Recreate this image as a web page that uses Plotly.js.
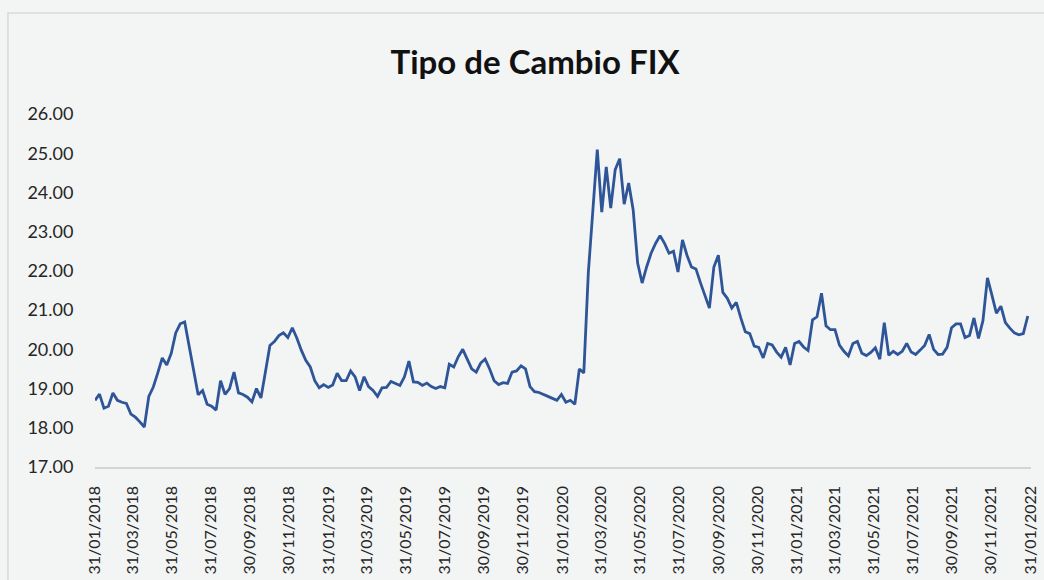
<!DOCTYPE html>
<html>
<head>
<meta charset="utf-8">
<script src="https://cdn.plot.ly/plotly-3.0.1.min.js"></script>
<style>
  html, body { margin: 0; padding: 0; background: #f3f4f4; }
  #chart { width: 1044px; height: 580px; }
</style>
</head>
<body>
<div id="chart"></div>
<script>
// Tipo de cambio FIX (MXN por USD), una lectura por semana desde el 31/01/2018
const startDate = '2018-01-31';
const fixValues = [
  18.70, 18.86, 18.50, 18.55, 18.89, 18.70, 18.65, 18.62, 18.35, 18.27,
  18.15, 18.02, 18.80, 19.04, 19.40, 19.78, 19.60, 19.90, 20.42, 20.65,
  20.70, 20.10, 19.40, 18.84, 18.95, 18.60, 18.55, 18.45, 19.20, 18.85,
  19.00, 19.42, 18.89, 18.85, 18.78, 18.66, 19.00, 18.76, 19.42, 20.10,
  20.20, 20.35, 20.42, 20.30, 20.55, 20.29, 19.98, 19.72, 19.55, 19.20,
  19.02, 19.10, 19.03, 19.09, 19.39, 19.20, 19.20, 19.45, 19.30, 18.95,
  19.30, 19.05, 18.95, 18.80, 19.02, 19.03, 19.18, 19.13, 19.08, 19.30,
  19.70, 19.17, 19.16, 19.08, 19.14, 19.05, 19.00, 19.05, 19.02, 19.62,
  19.55, 19.81, 20.00, 19.75, 19.50, 19.42, 19.65, 19.75, 19.50, 19.20,
  19.10, 19.15, 19.13, 19.42, 19.45, 19.58, 19.50, 19.05, 18.92, 18.90,
  18.86, 18.80, 18.75, 18.70, 18.85, 18.65, 18.70, 18.60, 19.50, 19.40,
  21.95, 23.60, 25.09, 23.50, 24.65, 23.60, 24.58, 24.86, 23.70, 24.24,
  23.56, 22.20, 21.69, 22.10, 22.45, 22.70, 22.90, 22.70, 22.45, 22.50,
  21.97, 22.79, 22.40, 22.10, 22.05, 21.70, 21.40, 21.05, 22.10, 22.40,
  21.45, 21.30, 21.05, 21.20, 20.80, 20.45, 20.40, 20.08, 20.05, 19.78,
  20.15, 20.11, 19.93, 19.80, 20.05, 19.60, 20.15, 20.20, 20.06, 19.97,
  20.75, 20.83, 21.43, 20.60, 20.50, 20.50, 20.11, 19.95, 19.83, 20.15,
  20.20, 19.90, 19.84, 19.92, 20.04, 19.75, 20.68, 19.85, 19.95, 19.87,
  19.95, 20.15, 19.93, 19.87, 19.98, 20.10, 20.38, 20.00, 19.87, 19.88,
  20.05, 20.55, 20.65, 20.65, 20.30, 20.35, 20.80, 20.28, 20.73, 21.82,
  21.38, 20.92, 21.10, 20.68, 20.54, 20.42, 20.37, 20.40, 20.85
];
const tickDates = [
  '2018-01-31', '2018-03-31', '2018-05-31', '2018-07-31', '2018-09-30', '2018-11-30',
  '2019-01-31', '2019-03-31', '2019-05-31', '2019-07-31', '2019-09-30', '2019-11-30',
  '2020-01-31', '2020-03-31', '2020-05-31', '2020-07-31', '2020-09-30', '2020-11-30',
  '2021-01-31', '2021-03-31', '2021-05-31', '2021-07-31', '2021-09-30', '2021-11-30',
  '2022-01-31'
];
const yTicks = [17, 18, 19, 20, 21, 22, 23, 24, 25, 26];

// fechas semanales
const fixDates = fixValues.map((v, i) => {
  const d = new Date(startDate + 'T00:00:00Z');
  d.setUTCDate(d.getUTCDate() + 7 * i);
  return d.toISOString().slice(0, 10);
});
const tickText = tickDates.map(s => s.slice(8, 10) + '/' + s.slice(5, 7) + '/' + s.slice(0, 4));

const trace = {
  type: 'scatter',
  mode: 'lines',
  x: fixDates,
  y: fixValues,
  line: { color: '#2E5597', width: 2.8 },
  hoverinfo: 'x+y'
};

const layout = {
  width: 1044,
  height: 580,
  title: {
    text: '<b>Tipo de Cambio FIX</b>',
    font: { family: 'Lato', size: 33, color: '#111111' },
    x: 0.5125,
    xanchor: 'center',
    y: 0.893,
    yanchor: 'middle'
  },
  font: { family: 'Lato', color: '#262626' },
  xaxis: {
    type: 'date',
    range: ['2018-01-31', '2022-01-31'],
    tickmode: 'array',
    tickvals: tickDates,
    ticktext: tickText,
    tickangle: -90,
    tickfont: { size: 16, color: '#262626' },
    ticks: 'outside',
    ticklen: 11,
    tickcolor: 'rgba(0,0,0,0)',
    showgrid: false,
    zeroline: false,
    showline: true,
    linecolor: '#d4d4d4',
    linewidth: 1.5
  },
  yaxis: {
    range: [17, 26],
    tickvals: yTicks,
    tickformat: '.2f',
    tickfont: { size: 18, color: '#262626' },
    ticks: 'outside',
    ticklen: 17,
    tickcolor: 'rgba(0,0,0,0)',
    showgrid: false,
    zeroline: false,
    showline: false
  },
  shapes: [{
    type: 'rect',
    xref: 'paper', yref: 'paper',
    x0: -0.093, x1: 1.05, y0: -0.4, y1: 1.286,
    line: { color: '#d9d9d9', width: 1.5 },
    fillcolor: 'rgba(0,0,0,0)',
    layer: 'below'
  }],
  margin: { l: 95, r: 13, t: 114, b: 113 },
  paper_bgcolor: '#f3f4f4',
  plot_bgcolor: 'rgba(0,0,0,0)',
  showlegend: false
};

const config = { displayModeBar: false, responsive: false, staticPlot: true };

Plotly.newPlot('chart', [trace], layout, config);
</script>
</body>
</html>
